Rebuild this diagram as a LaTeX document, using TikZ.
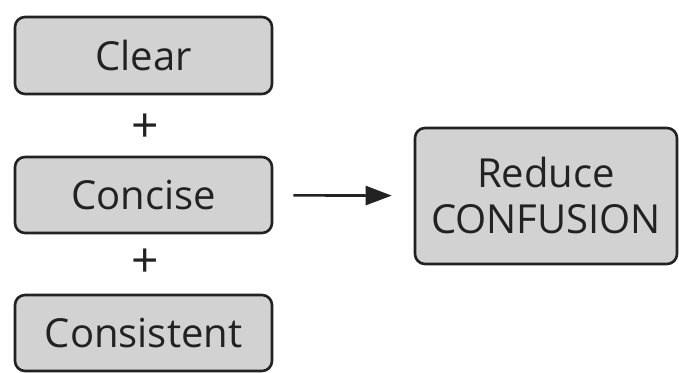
\documentclass[tikz,border=0pt]{standalone}
\usepackage{fontspec}
\setmainfont{Open Sans}
\usetikzlibrary{arrows.meta}
\definecolor{boxgray}{HTML}{D2D2D2}
\definecolor{ink}{HTML}{222222}

\begin{document}
\begin{tikzpicture}[
            x = 1pt, y = 1pt, % one unit per pixel
            > = {Triangle[length=26pt, width=19pt]}, % arrow head style
            semithick % line style
        ]

        \tikzstyle{box}=[
            draw = ink,
            line width = 2.6pt,
            fill = boxgray,
            text = ink,
            rounded corners = 10pt,
            font = \fontsize{40}{46}\selectfont,
            align = center,
            inner sep = 0pt
        ]
        \tikzstyle{plus}=[
            text = ink,
            font = \fontsize{48}{48}\selectfont
        ]

        \useasboundingbox (0,0) rectangle (679,372);

        \node[box, minimum width=257pt, minimum height=77pt] (clear) at (143.5,316.5) {Clear};
        \node[box, minimum width=257pt, minimum height=76pt] (concise) at (143.5,177) {Concise};
        \node[box, minimum width=257pt, minimum height=76pt] (consistent) at (143.5,39) {Consistent};
        \node[box, minimum width=262pt, minimum height=136pt] (reduce) at (546,176) {Reduce\\CONFUSION};

        \node[plus] (p1) at (145,244) {+};
        \node[plus] (p2) at (145,109) {+};

	\draw[->, line width=2.6pt, ink, shorten <=20pt, shorten >=22pt] (concise) -- (reduce);

    \end{tikzpicture}
\end{document}
